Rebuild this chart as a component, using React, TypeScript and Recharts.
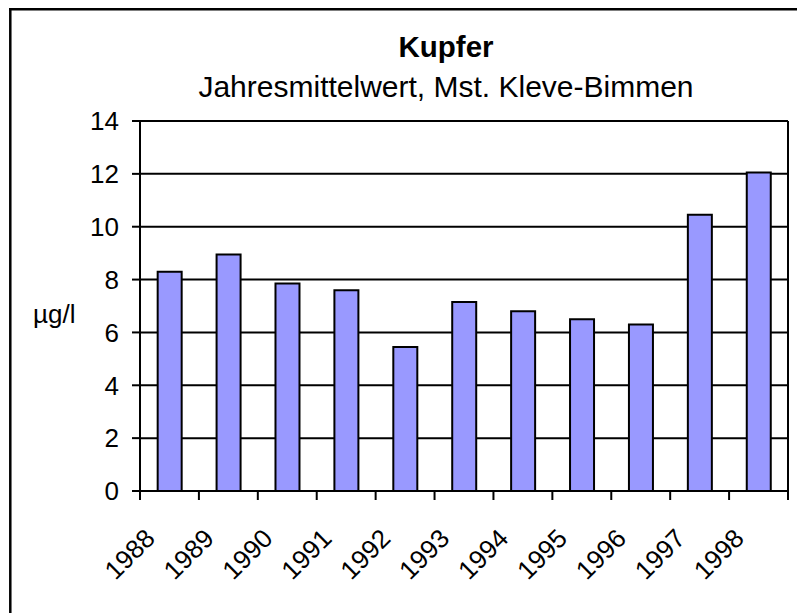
import { BarChart, Bar, XAxis, YAxis, CartesianGrid } from "recharts";

const YEARS = ["1988", "1989", "1990", "1991", "1992", "1993", "1994", "1995", "1996", "1997", "1998"];
const COPPER = [8.3, 8.95, 7.85, 7.6, 5.45, 7.15, 6.8, 6.5, 6.3, 10.45, 12.05];
const Y_TICKS = [0, 2, 4, 6, 8, 10, 12, 14];

const FONT = '"Liberation Sans", Arial, sans-serif';

const data = YEARS.map((year, i) => ({ year, value: COPPER[i] }));

// Excel style: tick marks sit between the years, label rotated under the bar
function YearTick(props: any) {
  const { x, y, payload, index, visibleTicksCount } = props;
  const half = payload.offset ?? 0;
  const bx = x - 13;
  const by = y + 49;
  const last = index === visibleTicksCount - 1;
  return (
    <g>
      <line x1={x - half} y1={y} x2={x - half} y2={y + 9} stroke="#000" strokeWidth={2} />
      {last && <line x1={x + half} y1={y} x2={x + half} y2={y + 9} stroke="#000" strokeWidth={2} />}
      <text
        x={bx}
        y={by}
        textAnchor="end"
        transform={`rotate(-45 ${bx} ${by})`}
        fontSize={26}
        fontFamily={FONT}
        fill="#000"
      >
        {payload.value}
      </text>
    </g>
  );
}

export default function App() {
  return (
    <div style={{ position: "absolute", left: 0, top: 0, width: 797, height: 613, overflow: "hidden", background: "#fff" }}>
      <BarChart
        width={797}
        height={613}
        data={data}
        margin={{ top: 121, right: 0, bottom: 22, left: 0 }}
        barCategoryGap="30%"
      >
        <CartesianGrid vertical={false} stroke="#000" strokeWidth={2} />
        <XAxis
          dataKey="year"
          height={100}
          tickLine={false}
          axisLine={{ stroke: "#000", strokeWidth: 2 }}
          tickSize={0}
          tickMargin={0}
          interval={0}
          tick={<YearTick />}
        />
        <YAxis
          domain={[0, 14]}
          ticks={Y_TICKS}
          width={140}
          tickSize={8}
          tickMargin={13}
          axisLine={{ stroke: "#000", strokeWidth: 2 }}
          tickLine={{ stroke: "#000", strokeWidth: 2 }}
          tick={{ fill: "#000", fontSize: 26, fontFamily: FONT }}
        />
        <YAxis
          yAxisId="r"
          orientation="right"
          domain={[0, 14]}
          width={9}
          tick={false}
          tickLine={false}
          axisLine={{ stroke: "#000", strokeWidth: 2 }}
        />
        <Bar
          dataKey="value"
          fill="#9999ff"
          stroke="#000"
          strokeWidth={2}
          isAnimationActive={false}
        />
      </BarChart>
      <svg
        width={797}
        height={613}
        style={{ position: "absolute", left: 0, top: 0, pointerEvents: "none" }}
      >
        <line x1={10.3} y1={8} x2={10.3} y2={613} stroke="#000" strokeWidth={2.5} />
        <line x1={9} y1={9.3} x2={797} y2={9.3} stroke="#000" strokeWidth={2.5} />
        <text x={446} y={57} textAnchor="middle" fontSize={29.5} fontWeight="bold" fontFamily={FONT} fill="#000">
          Kupfer
        </text>
        <text x={446} y={97} textAnchor="middle" fontSize={30} fontFamily={FONT} fill="#000">
          Jahresmittelwert, Mst. Kleve-Bimmen
        </text>
        <text x={33} y={323} fontSize={26} fontFamily={FONT} fill="#000">
          µg/l
        </text>
      </svg>
    </div>
  );
}
